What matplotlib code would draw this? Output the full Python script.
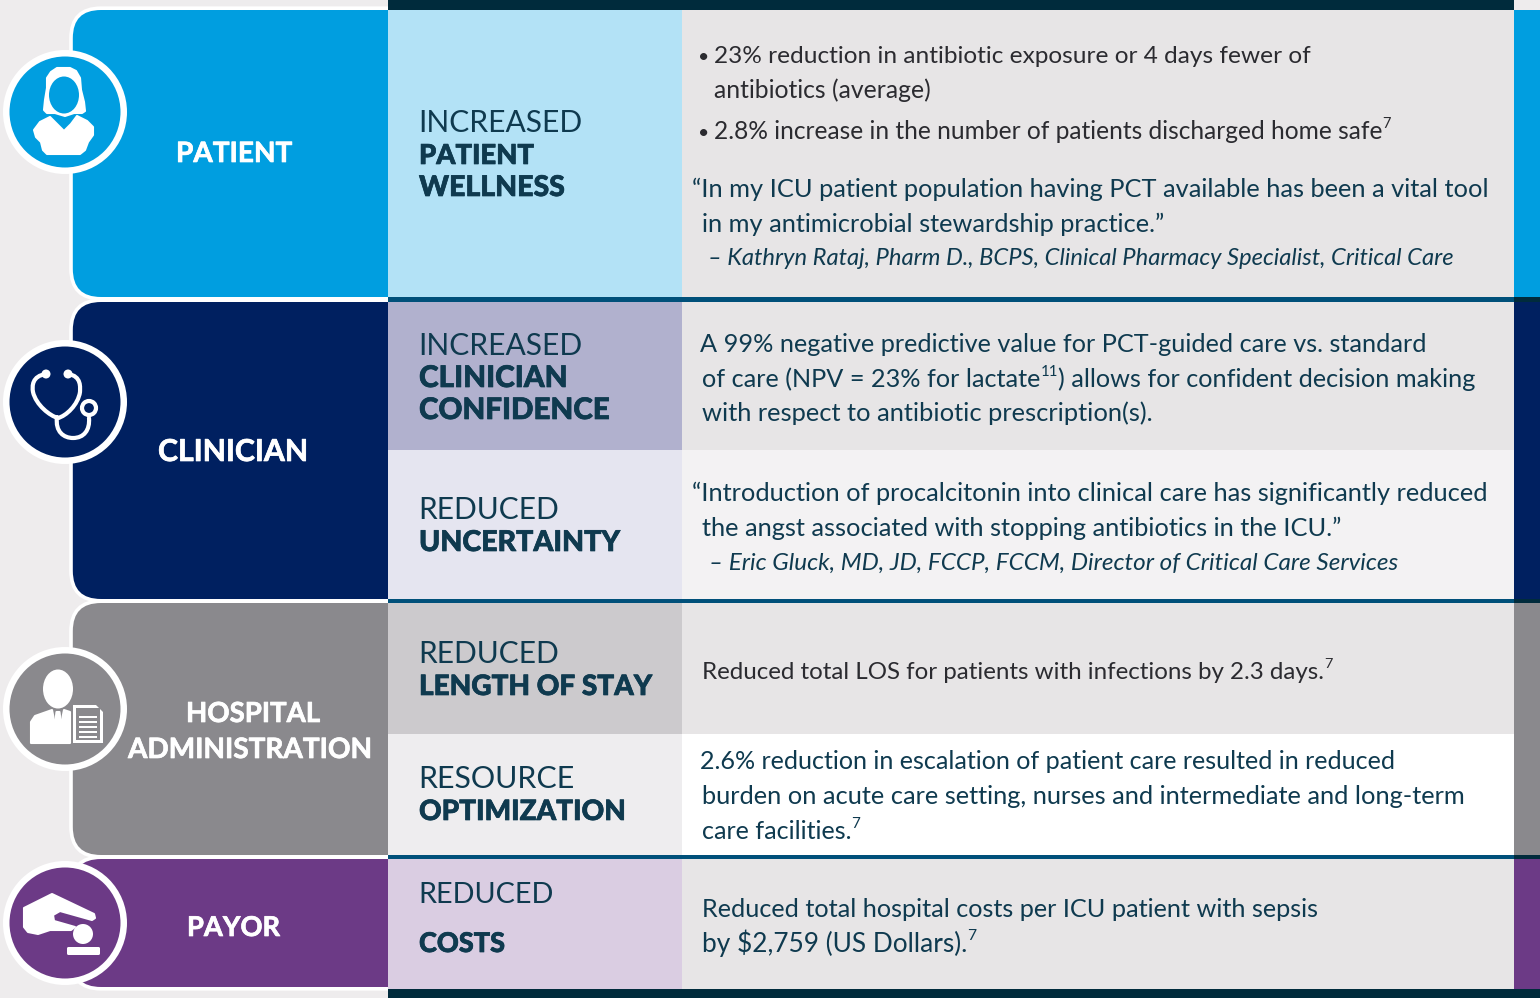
import matplotlib
matplotlib.use("Agg")
import matplotlib.pyplot as plt
import matplotlib.patheffects as pe
from matplotlib.patches import Rectangle, FancyBboxPatch, Circle, Ellipse, Polygon, PathPatch
from matplotlib.path import Path

plt.rcParams["font.family"] = ["Lato", "DejaVu Sans"]

BG = "#EEECED"
DARK = "#002B3C"
RULE = "#00507A"
INK = "#0F3A4F"
INK2 = "#2B2B30"

# group labels and colours
groups = ["PATIENT", "CLINICIAN", "HOSPITAL\nADMINISTRATION", "PAYOR"]
group_colors = ["#009EE0", "#002060", "#8A898D", "#6C3A86"]

# rows: middle column heading (light line, bold lines), fills
row_light = ["INCREASED", "INCREASED", "REDUCED", "REDUCED", "RESOURCE", "REDUCED"]
row_bold = [
    ["PATIENT", "WELLNESS"],
    ["CLINICIAN", "CONFIDENCE"],
    ["UNCERTAINTY"],
    ["LENGTH OF STAY"],
    ["OPTIMIZATION"],
    ["COSTS"],
]
mid_fill = ["#B3E2F6", "#B1B1CE", "#E5E5F0", "#CCCACD", "#EEEDEF", "#DACDE2"]
right_fill = ["#E7E5E6", "#E7E5E6", "#F3F2F3", "#E7E5E6", "#FFFFFF", "#E7E5E6"]

# right column, ^..^ marks a superscript
body_lines = [
    "23% reduction in antibiotic exposure or 4 days fewer of",
    "antibiotics (average)",
    "2.8% increase in the number of patients discharged home safe^7^",
    "“In my ICU patient population having PCT available has been a vital tool",
    "in my antimicrobial stewardship practice.”",
    "– Kathryn Rataj, Pharm D., BCPS, Clinical Pharmacy Specialist, Critical Care",
    "A 99% negative predictive value for PCT-guided care vs. standard",
    "of care (NPV = 23% for lactate^11^) allows for confident decision making",
    "with respect to antibiotic prescription(s).",
    "“Introduction of procalcitonin into clinical care has significantly reduced",
    "the angst associated with stopping antibiotics in the ICU.”",
    "– Eric Gluck, MD, JD, FCCP, FCCM, Director of Critical Care Services",
    "Reduced total LOS for patients with infections by 2.3 days.^7^",
    "2.6% reduction in escalation of patient care resulted in reduced",
    "burden on acute care setting, nurses and intermediate and long-term",
    "care facilities.^7^",
    "Reduced total hospital costs per ICU patient with sepsis",
    "by $2,759 (US Dollars).^7^",
]

# layout, in picture pixels
group_top = [10, 302, 603, 859]
group_bot = [297, 599, 855, 989]
panel_bot = [297, 599, 855, 987]
row_top = [10, 302, 450, 603, 734, 859]
row_bot = [297, 450, 599, 734, 855, 989]
icon_y = [112, 402, 709, 923]
group_label_pos = [[(176, 292, 162)], [(158, 308, 461)], [(186, 320, 722), (128, 372, 758)], [(187, 280, 936)]]
light_pos = [(582, 132), (582, 355), (558, 519), (558, 663), (574, 788), (553, 903)]
bold_pos = [[(534, 164), (565, 196)], [(568, 387), (610, 419)], [(620, 551)], [(652, 695)], [(626, 820)], [(505, 952)]]
body_pos = [
    (714, 1308, 63), (714, 931, 98), (714, 1389, 139), (692, 1487, 197), (702, 1163, 232), (708, 1455, 265),
    (700, 1424, 352), (702, 1476, 387), (702, 1151, 421), (692, 1484, 501), (702, 1340, 536), (709, 1399, 570),
    (702, 1331, 679), (700, 1396, 769), (702, 1462, 804), (702, 860, 839), (702, 1318, 917), (702, 977, 952),
]
body_italic = [5, 11]
body_dark = [0, 1, 2, 12]
bullet_y = [63, 139]

fig = plt.figure(figsize=(15.4, 9.98), dpi=100, facecolor=BG)
ax = fig.add_axes([0, 0, 1, 1])
ax.set_xlim(0, 1540)
ax.set_ylim(998, 0)
ax.axis("off")
renderer = fig.canvas.get_renderer()


def fit_text(x0, x1, y, s, size, color, weight="normal", style="normal", thicken=0):
    parts = s.split("^")
    effects = [pe.withStroke(linewidth=thicken, foreground=color)] if thicken else None
    def width(fs):
        w = 0
        for i, p in enumerate(parts):
            if p:
                t = ax.text(0, 0, p, fontsize=fs * (0.6 if i % 2 else 1), weight=weight, style=style)
                w += t.get_window_extent(renderer).width
                t.remove()
        return w
    fs = size * (x1 - x0) / width(size)
    x = x0
    for i, p in enumerate(parts):
        if not p:
            continue
        sup = i % 2 == 1
        t = ax.text(x, y - (fs * 0.62 if sup else 0), p, fontsize=fs * (0.6 if sup else 1), color=color,
                    weight=weight, style=style, va="baseline", ha="left", zorder=6, path_effects=effects)
        x += t.get_window_extent(renderer).width


def rect(x0, y0, x1, y1, c, z=2):
    ax.add_patch(Rectangle((x0, y0), x1 - x0, y1 - y0, fc=c, ec="none", zorder=z))


def curve(pts, color="white", lw=3.0, z=6):
    codes = [Path.MOVETO] + [Path.CURVE4] * (len(pts) - 1)
    ax.add_patch(PathPatch(Path(pts, codes), fc="none", ec=color, lw=lw, capstyle="round", zorder=z))


def blob(pts, z=6, c="white"):
    ax.add_patch(Polygon(pts, fc=c, ec=c, lw=1.5, joinstyle="round", zorder=z))


# panels on the left, the white outline sits outside the fill
for i in range(4):
    t, b = group_top[i] - 1.8, panel_bot[i] + 1.8
    r = 30
    ax.add_patch(FancyBboxPatch((71 + r, t + r), 400 - r, b - t - 2 * r,
                                boxstyle=f"round,pad={r},rounding_size={r}",
                                fc=group_colors[i], ec="white", lw=2.6, zorder=1))

# table rows
for i in range(6):
    rect(388, row_top[i], 682, row_bot[i], mid_fill[i])
    rect(682, row_top[i], 1514, row_bot[i], right_fill[i])

# right strip
for i in range(4):
    rect(1514, group_top[i], 1540, group_bot[i], group_colors[i])

# rules
rect(388, 0, 1514, 10, DARK, 3)
rect(388, 989, 1540, 998, DARK, 3)
for y0, y1 in [(297, 302), (599, 603), (855, 859)]:
    rect(388, y0, 1514, y1, RULE, 3)
    rect(1514, y0, 1540, y1, DARK, 3)

# round badges
for i in range(4):
    ax.add_patch(Circle((65, icon_y[i]), 62, fc="white", ec="none", zorder=4))
    ax.add_patch(Circle((65, icon_y[i]), 55.5, fc=group_colors[i], ec="none", zorder=5))

# patient icon
blob([(44, 110), (45, 100), (47, 88), (47, 78), (51, 72), (57, 68), (70, 68), (76, 71), (80, 78), (81, 90),
      (84, 102), (85, 111), (82, 113), (74, 113), (65, 116), (55, 113), (47, 113)])
ax.add_patch(Ellipse((64, 95), 30, 37, fc=group_colors[0], ec="none", zorder=7))
blob([(50, 117), (40, 122), (34, 130), (36, 137), (41, 142), (43, 150), (47, 154), (80, 154), (85, 150), (88, 142),
      (93, 135), (93, 127), (87, 121), (77, 116), (71, 124), (64, 131), (57, 124)])

# stethoscope icon
curve([(46, 374), (32, 376), (32, 386), (33, 392), (36, 405), (50, 416), (58, 418)])
curve([(68, 374), (82, 376), (80, 388), (80, 392), (78, 405), (66, 416), (58, 418)])
curve([(57, 417), (55, 432), (64, 438), (73, 438), (84, 438), (90, 430), (89, 418)])
ax.add_patch(Circle((46, 374), 4.5, fc="white", ec="none", zorder=6))
ax.add_patch(Circle((68, 374), 4.5, fc="white", ec="none", zorder=6))
ax.add_patch(Circle((89, 408), 7, fc=group_colors[1], ec="white", lw=3, zorder=6))

# administrator icon
ax.add_patch(Ellipse((58, 689), 30, 39, fc="white", ec="none", zorder=6))
blob([(31, 743), (31, 722), (35, 716), (52, 710), (58, 739), (64, 710), (70, 712), (70, 743)])
blob([(56.5, 712), (59.5, 712), (60, 716), (60, 731), (58, 735), (56, 731), (56, 716)], z=7)
ax.add_patch(Polygon([(73, 705), (96, 705), (103, 712), (103, 743), (73, 743)], fc="white", ec="none", zorder=6))
ax.add_patch(Rectangle((76, 708), 24, 32, fc=group_colors[2], ec="none", zorder=7))
for ly in (717, 722, 727, 732, 737):
    rect(79, ly - 1, 97, ly + 1, "white", 8)

# payor icon
blob([(24, 908), (52, 894), (94, 914), (95, 918), (92, 920), (60, 911), (53, 915), (54, 921),
      (75, 927), (71, 930), (50, 930), (38, 934), (28, 932), (24, 927)])
ax.add_patch(Circle((83, 934), 10, fc="white", ec="none", zorder=6))
ax.add_patch(FancyBboxPatch((68, 948), 31, 6, boxstyle="round,pad=1,rounding_size=1.5", fc="white", ec="none", zorder=6))

# group labels
for i, name in enumerate(groups):
    for line, (x0, x1, y) in zip(name.split("\n"), group_label_pos[i]):
        fit_text(x0, x1, y, line, 21, "white", weight="bold", thicken=0.5)

# middle column
for i in range(6):
    x1, y = light_pos[i]
    fit_text(418, x1, y, row_light[i], 21, INK)
    for line, (x1, y) in zip(row_bold[i], bold_pos[i]):
        fit_text(419, x1, y, line, 21, INK, weight="black", thicken=0.5)

# right column
for y in bullet_y:
    ax.text(698, y, "•", fontsize=14, color=INK2, va="baseline", ha="left", zorder=6)
for i, line in enumerate(body_lines):
    x0, x1, y = body_pos[i]
    fit_text(x0, x1, y, line, 18, INK2 if i in body_dark else INK,
             style="italic" if i in body_italic else "normal")

fig.savefig("out.png", dpi=100, facecolor=BG)
